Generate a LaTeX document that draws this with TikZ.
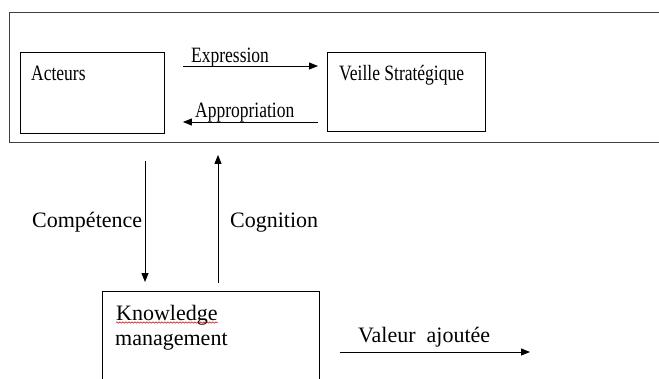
\documentclass[tikz,border=0pt]{standalone}
\usepackage{fontspec}
\setmainfont{Liberation Serif}
\usetikzlibrary{arrows.meta,decorations.pathmorphing}
% upper-panel text is set slightly taller than wide
\newcommand{\tall}[1]{\scalebox{1}[1.25]{#1}}
\begin{document}
\begin{tikzpicture}[x=1pt,y=-1pt,
  box/.style={draw, line width=0.9pt, inner sep=0pt, anchor=north west},
  lbl/.style={anchor=base west, inner sep=0pt, font=\fontsize{17.5}{20}\selectfont},
  biglbl/.style={lbl, font=\fontsize{22}{26}\selectfont},
  link/.style={line width=0.9pt, -{Triangle[length=9pt,width=7pt]}}]
\useasboundingbox (0,0) rectangle (659,378);
\clip (0,0) rectangle (659,378);

% outer frame (runs past the right edge)
\node[box, draw=black!75, minimum width=700pt, minimum height=130pt] (cadre) at (9,12) {};

% boxes
\node[box, minimum width=144pt, minimum height=81pt] (acteurs) at (20,52) {};
\node[box, minimum width=158pt, minimum height=79pt] (veille) at (327,52) {};
\node[box, minimum width=217pt, minimum height=120pt] (km) at (102,291) {};

% box texts
\node[lbl] (tacteurs) at (31,80) {\tall{Acteurs}};
\node[lbl] (tveille) at (339,80) {\tall{Veille Stratégique}};
\node[biglbl] (tknow) at (116,320) {Knowledge};
\node[biglbl] (tman) at (115,345) {management};
% spell-check squiggle under "Knowledge"
\draw[red!80!black, line width=0.5pt, decorate,
      decoration={snake, amplitude=0.7pt, segment length=3pt}]
  ([yshift=-2.5pt]tknow.base west) -- ([yshift=-2.5pt]tknow.base east);

% connectors
\draw[link] ([shift={(18,14)}]acteurs.north east) -- ([shift={(-9,14)}]veille.north west);
\draw[link] ([shift={(-9,70)}]veille.north west) -- ([shift={(18,70)}]acteurs.north east);
\draw[link] ([shift={(125,27)}]acteurs.south west) -- ([shift={(43,-9)}]km.north west);
\draw[link] ([shift={(116,-8)}]km.north west) -- ([shift={(198,21)}]acteurs.south west);
\coordinate (fin) at (530,352);
\draw[link] ([shift={(20,61)}]km.north east) -- (fin);

% connector labels
\node[lbl] (lexp) at (191,62) {\tall{Expression}};
\node[lbl] (lapp) at (195,117) {\tall{Appropriation}};
\node[biglbl] (lcomp) at (32,227) {Compétence};
\node[biglbl] (lcog) at (230,227) {Cognition};
\node[biglbl] (lval) at (358,342) {Valeur\ \ ajoutée};
\end{tikzpicture}
\end{document}
